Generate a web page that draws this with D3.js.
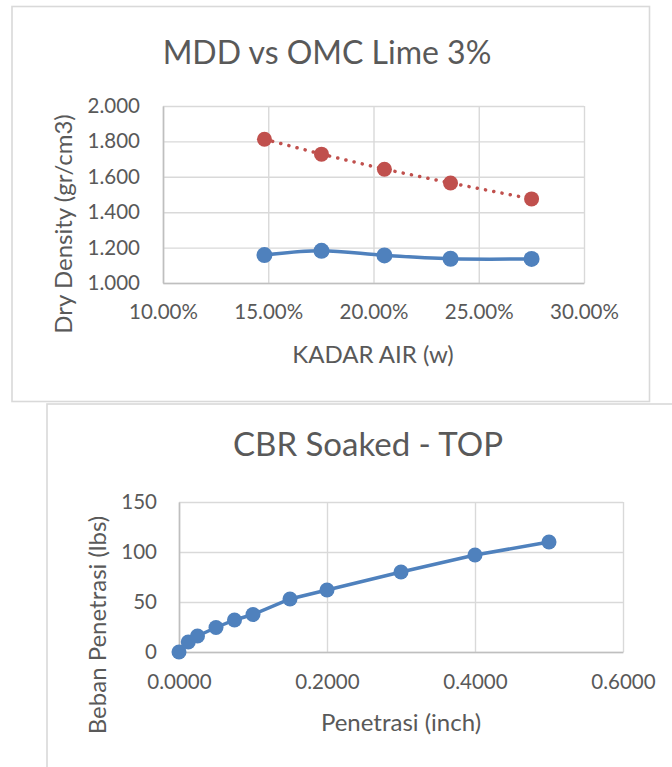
<!DOCTYPE html>
<html><head><meta charset="utf-8">
<script src="https://cdn.jsdelivr.net/npm/d3@7"></script>
<style>
html,body{margin:0;padding:0;background:#fff;}
svg{display:block;}
text{font-family:Lato,"Open Sans",sans-serif;fill:#595959;}
</style></head>
<body>
<svg id="c" width="672" height="767"></svg>
<script>
// ---- Chart 1 data: MDD vs OMC Lime 3% ----
const kadarAir = [0.1482, 0.1753, 0.2052, 0.2366, 0.2751];
const dryDensity = [1.158, 1.182, 1.156, 1.137, 1.136];
const zavDensity = [1.812, 1.728, 1.643, 1.565, 1.475];
const xTicks1 = [0.10, 0.15, 0.20, 0.25, 0.30];
const yTicks1 = [1.0, 1.2, 1.4, 1.6, 1.8, 2.0];

// ---- Chart 2 data: CBR Soaked - TOP ----
const penetrasi = [0, 0.0125, 0.025, 0.05, 0.075, 0.1, 0.15, 0.2, 0.3, 0.4, 0.5];
const beban = [0, 10, 16, 24.5, 32, 37.5, 53, 62, 80, 97, 110];
const xTicks2 = [0, 0.2, 0.4, 0.6];
const yTicks2 = [0, 50, 100, 150];

const svg = d3.select("#c");
const BLUE = "#4F81BD", RED = "#C0504D", GRID = "#D9D9D9", AXIS = "#BFBFBF";

// chart boxes
svg.append("rect").attr("x",12).attr("y",6.5).attr("width",637.5).attr("height",395)
  .attr("fill","none").attr("stroke",GRID).attr("stroke-width",1.6);
svg.append("rect").attr("x",47).attr("y",404).attr("width",640).attr("height",380)
  .attr("fill","none").attr("stroke",GRID).attr("stroke-width",1.6);

function drawChart(o){
  const g = svg.append("g");
  const x = d3.scaleLinear().domain(o.xDomain).range([o.left,o.right]);
  const y = d3.scaleLinear().domain(o.yDomain).range([o.bottom,o.top]);
  // gridlines
  const gx = d3.axisBottom(x).tickValues(o.xTicks).tickSize(-(o.bottom-o.top)).tickFormat("");
  const gy = d3.axisLeft(y).tickValues(o.yTicks).tickSize(-(o.right-o.left)).tickFormat("");
  g.append("g").attr("transform",`translate(0,${o.bottom})`).call(gx)
    .call(s=>{s.select(".domain").remove();s.selectAll("line").attr("stroke",GRID).attr("stroke-width",1.4);});
  g.append("g").attr("transform",`translate(${o.left},0)`).call(gy)
    .call(s=>{s.select(".domain").remove();s.selectAll("line").attr("stroke",GRID).attr("stroke-width",1.4);});
  // axes with labels
  const ax = d3.axisBottom(x).tickValues(o.xTicks).tickSize(0).tickPadding(o.xPad).tickFormat(o.xFmt);
  const ay = d3.axisLeft(y).tickValues(o.yTicks).tickSize(0).tickPadding(o.yPad).tickFormat(o.yFmt);
  g.append("g").attr("transform",`translate(0,${o.bottom})`).call(ax)
    .call(s=>{s.select(".domain").attr("stroke",AXIS).attr("stroke-width",1.6);
      s.selectAll("text").attr("font-size",o.tickSize).attr("fill","#595959").attr("font-family","Lato");});
  g.append("g").attr("transform",`translate(${o.left},0)`).call(ay)
    .call(s=>{s.select(".domain").attr("stroke",AXIS).attr("stroke-width",1.6);
      s.selectAll("text").attr("font-size",o.tickSize).attr("fill","#595959").attr("font-family","Lato");});
  // titles
  g.append("text").attr("x",o.titleX).attr("y",o.titleY).attr("text-anchor","middle")
    .attr("font-size",o.titleSize).text(o.title);
  g.append("text").attr("x",o.xtX).attr("y",o.xtY).attr("text-anchor","middle")
    .attr("font-size",o.axisTitleSize).text(o.xTitle);
  g.append("text").attr("transform",`translate(${o.ytX},${o.ytY}) rotate(-90)`).attr("text-anchor","middle")
    .attr("font-size",o.axisTitleSize).text(o.yTitle);
  // series
  o.series.forEach(sr=>{
    const pts = sr.xs.map((v,i)=>[v,sr.ys[i]]);
    const line = d3.line().x(d=>x(d[0])).y(d=>y(d[1])).curve(sr.curve||d3.curveLinear);
    g.append("path").attr("d",line(pts)).attr("fill","none").attr("stroke",sr.color)
      .attr("stroke-width",sr.width).attr("stroke-linecap","round")
      .attr("stroke-dasharray",sr.dash||null);
    g.selectAll(null).data(pts).enter().append("circle")
      .attr("cx",d=>x(d[0])).attr("cy",d=>y(d[1])).attr("r",sr.r).attr("fill",sr.color);
  });
}

drawChart({
  xDomain:[0.10,0.30], yDomain:[1.0,2.0], left:163, right:584, top:106, bottom:283,
  xTicks:xTicks1, yTicks:yTicks1, xFmt:d3.format(".2%"), yFmt:d3.format(".3f"),
  xPad:21, yPad:23, tickSize:20.5,
  title:"MDD vs OMC Lime 3%", titleX:327, titleY:64, titleSize:32,
  xTitle:"KADAR AIR (w)", xtX:373, xtY:363, yTitle:"Dry Density (gr/cm3)", ytX:72, ytY:224, axisTitleSize:24,
  series:[
    {xs:kadarAir, ys:dryDensity, color:BLUE, width:3.5, r:8, curve:d3.curveCatmullRom.alpha(0.5)},
    {xs:kadarAir, ys:zavDensity, color:RED, width:3.5, r:7.5, dash:"0.1 8.3"}
  ]
});

drawChart({
  xDomain:[0,0.6], yDomain:[0,150], left:179, right:623, top:502, bottom:652,
  xTicks:xTicks2, yTicks:yTicks2, xFmt:d3.format(".4f"), yFmt:d3.format("d"),
  xPad:22, yPad:22, tickSize:20.5,
  title:"CBR Soaked - TOP", titleX:368, titleY:456, titleSize:33,
  xTitle:"Penetrasi (inch)", xtX:401, xtY:731, yTitle:"Beban Penetrasi (lbs)", ytX:106, ytY:625, axisTitleSize:24,
  series:[
    {xs:penetrasi, ys:beban, color:BLUE, width:3.5, r:7.5}
  ]
});
</script>
</body></html>
